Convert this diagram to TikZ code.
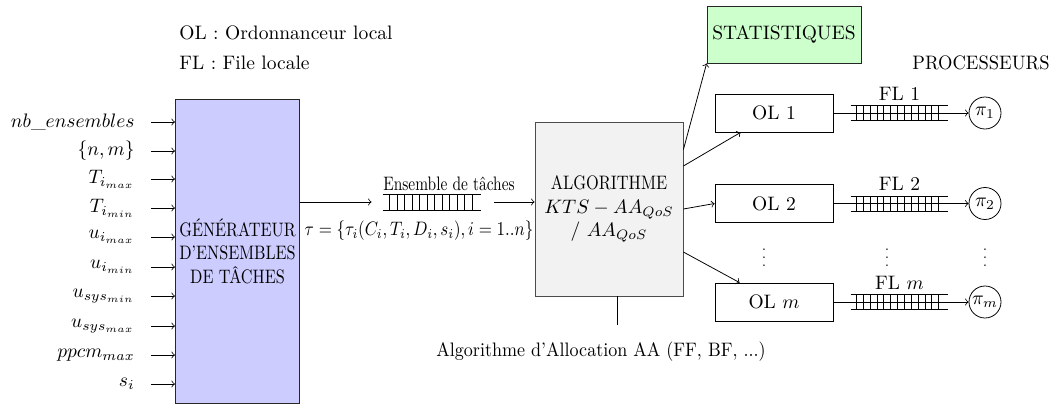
\documentclass[tikz,border=0pt]{standalone}
\usepackage{fontspec}
\usepackage{graphicx}
\usetikzlibrary{calc}
\def\pxu{0.5128pt}
\tikzset{
  box/.style={draw=black!85, rectangle, inner sep=2pt, align=center},
  olbox/.style={box, draw=black, minimum width=118*\pxu, minimum height=38*\pxu},
  proc/.style={draw=black, circle, minimum size=32*\pxu, inner sep=0pt},
  queue/.style={inner sep=0pt, minimum width=97*\pxu, minimum height=14*\pxu},
  inlab/.style={anchor=east, inner sep=0pt},
  inarrow/.style={->, shorten <=16*\pxu},
  txt/.style={inner sep=1pt},
  dots/.style={inner sep=0pt, font=\fontsize{7}{7}\selectfont},
}
\begin{document}
\begin{tikzpicture}[x=0.5128pt, y=-0.5128pt]
\useasboundingbox (0,0) rectangle (1063,405);

% legend
\node[txt, anchor=west] (leg1) at (177,33) {OL : Ordonnanceur local};
\node[txt, anchor=west] (leg2) at (177,63) {FL : File locale};

% generator
\node[box, fill=blue!20, minimum width=123*\pxu, minimum height=304*\pxu] (gen) at (237.5,251)
  {\scalebox{0.83}[1]{GÉNÉRATEUR}\\\scalebox{0.83}[1]{D'ENSEMBLES}\\\scalebox{0.83}[1]{DE TÂCHES}};

% inputs
\node[inlab] (in1) at (135,122) {$nb\_ensembles$};
\node[inlab] (in2) at (135,151) {$\{n, m\}$\hspace{3.5pt}};
\node[inlab] (in3) at (135,179) {$T_{i_{max}}$};
\node[inlab] (in4) at (135,208) {$T_{i_{min}}$};
\node[inlab] (in5) at (135,237) {$u_{i_{max}}$};
\node[inlab] (in6) at (135,267) {$u_{i_{min}}$};
\node[inlab] (in7) at (135,296) {$u_{sys_{min}}$};
\node[inlab] (in8) at (135,326) {$u_{sys_{max}}$};
\node[inlab] (in9) at (135,355) {$ppcm_{max}$};
\node[inlab] (in10) at (135,384) {$s_i$};
\foreach \k in {1,...,10}
  \draw[inarrow] (in\k.east) -- (in\k.east -| gen.west);

% task set queue
\node[queue, minimum width=98*\pxu, minimum height=15*\pxu] (q1) at (432,202) {};
\node[txt] (q1lab) at (449,184) {\scalebox{0.79}[1]{Ensemble de tâches}};
\node[txt] (tau) at (419,231) {\scalebox{0.87}[1]{$\tau = \{\tau_i(C_i, T_i, D_i, s_i), i = 1..n\}$}};

% algorithm
\node[box, draw=black!70, fill=black!5, minimum width=148*\pxu, minimum height=174*\pxu] (algo) at (609,209)
  {\scalebox{0.84}[1]{ALGORITHME}\\$KTS - AA_{QoS}$\\/ $AA_{QoS}$};
\draw[->, shorten >=11*\pxu] (gen.east |- q1) -- (q1.west);
\draw[->, shorten <=13*\pxu] (q1.east) -- (algo.west |- q1);

\coordinate (algobot) at (617,325);
\draw (algo.south -| algobot) -- (algobot);
\node[txt] (alloc) at (601,352) {\scalebox{0.925}[1]{Algorithme d'Allocation AA (FF, BF, ...)}};

% statistics
\node[box, draw=black!85, fill=green!20, minimum width=154*\pxu, minimum height=57*\pxu] (stat) at (784,34.5) {STATISTIQUES};
\draw[->] ($(algo.north east)+(0,28)$) -- (stat.south west);

% local schedulers
\node[olbox] (ol1) at (774,113) {OL 1};
\node[olbox] (ol2) at (774,203.5) {OL 2};
\node[olbox] (olm) at (774,302) {OL $m$};
\draw[->] ($(algo.east)+(0,-43)$) -- ($(ol1.south west)+(26,0)$);
\draw[->] (algo.east) -- (ol2.west);
\draw[->] ($(algo.east)+(0,43)$) -- ($(olm.north west)+(25,0)$);

% processors
\node[proc] (p1) at (985,113) {$\pi_1$};
\node[proc] (p2) at (985,203.5) {$\pi_2$};
\node[proc] (pm) at (985,302) {$\pi_m$};
\node[txt] (proclab) at (981,63) {\scalebox{0.95}[1]{PROCESSEURS}};

% local queues
\node[queue, label={[inner sep=2.5pt]above:FL 1}] (f1) at (899.5,113) {};
\node[queue, label={[inner sep=2.5pt]above:FL 2}] (f2) at (899.5,203.5) {};
\node[queue, label={[inner sep=2.5pt]above:FL $m$}] (fm) at (899.5,302) {};
\draw[->] (ol1.east) -- (p1.west);
\draw[->] (ol2.east) -- (p2.west);
\draw[->] (olm.east) -- (pm.west);

\foreach \q/\a/\s/\n in {q1/0.07/0.076/11, f1/0.06/0.07/12, f2/0.06/0.07/12, fm/0.06/0.07/12} {
  \draw (\q.north west) -- (\q.north east) (\q.south west) -- (\q.south east);
  \foreach \k in {0,...,\n}
    \draw ($(\q.north west)!{\a+\k*\s}!(\q.north east)$) -- ($(\q.south west)!{\a+\k*\s}!(\q.south east)$);
}

% dots
\node[dots] (d1) at (764,252) {$\vdots$};
\node[dots] (d2) at (887,252) {$\vdots$};
\node[dots] (d3) at (985,252) {$\vdots$};
\end{tikzpicture}
\end{document}
